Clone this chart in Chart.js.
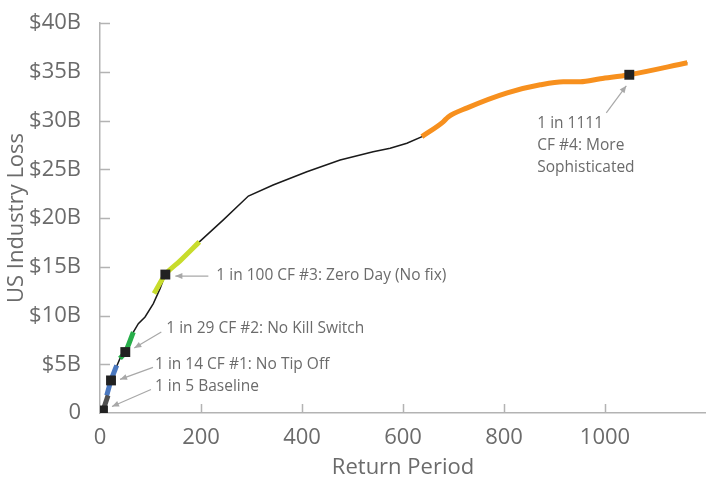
<!DOCTYPE html>
<html>
<head>
<meta charset="utf-8">
<script src="https://cdn.jsdelivr.net/npm/chart.js@4.4.1/dist/chart.umd.min.js"></script>
<style>
  html, body { margin: 0; padding: 0; background: #fff; }
  #wrap { width: 706px; height: 479px; }
</style>
</head>
<body>
<div id="wrap"><canvas id="chart" width="706" height="479"></canvas></div>
<script>
// loss curve (return period in years, loss in $B)
const curveX = [5.9, 15.9, 21.8, 33.7, 39.6, 50.1, 66, 75.9, 89.2, 105.6, 118.9, 129.4, 158.5, 196.7, 243.7, 293.8, 342.8, 409.6, 475.5, 540.9, 574.6, 607.7, 640, 679.6, 689.5, 727.2, 806.4, 871.8, 917.4, 951.1, 990.7, 1048.1, 1163];
const curveY = [0.26, 1.8, 3.34, 4.88, 5.6, 6.25, 8.3, 9.17, 9.85, 11.22, 12.76, 14.2, 15.6, 17.55, 19.78, 22.25, 23.38, 24.75, 25.95, 26.8, 27.15, 27.67, 28.4, 29.86, 30.37, 31.3, 32.84, 33.66, 33.97, 33.97, 34.28, 34.69, 35.92];

// highlighted pieces of the curve
const baselineX = [5.9, 15.9];
const baselineY = [0.26, 1.8];
const cf1X = [13.3, 21.8, 33.1];
const cf1Y = [1.8, 3.34, 4.88];
const cf2X = [39.6, 50.1, 66];
const cf2Y = [5.6, 6.25, 8.3];
const cf3X = [107, 129.4, 158.5, 196.7];
const cf3Y = [12.25, 14.2, 15.6, 17.55];
const cf4X = [637.4, 679.6, 689.5, 727.2, 806.4, 871.8, 917.4, 951.1, 990.7, 1048.1, 1163];
const cf4Y = [28.35, 29.86, 30.37, 31.3, 32.84, 33.66, 33.97, 33.97, 34.28, 34.69, 35.92];

// scenario markers
const markerX = [5.9, 21.8, 50.1, 129.4, 1048.1];
const markerY = [0.26, 3.34, 6.25, 14.2, 34.69];
const markerLabels = [
  ['1 in 5 Baseline'],
  ['1 in 14 CF #1: No Tip Off'],
  ['1 in 29 CF #2: No Kill Switch'],
  ['1 in 100 CF #3: Zero Day (No fix)'],
  ['1 in 1111', 'CF #4: More', 'Sophisticated']
];

const xTicks = [0, 200, 400, 600, 800, 1000];
const yTicks = [0, 5, 10, 15, 20, 25, 30, 35, 40];

const pts = (xs, ys) => xs.map((x, i) => ({ x, y: ys[i] }));
const gray = '#6b6b6b';
const axisGray = '#b3b3b3';
const font = 'Open Sans';

// label placement relative to marker (pixels): text, arrow tail, arrow head
const callouts = [
  { text: [52, -24], tail: [48, -21], head: [9, -4] },
  { text: [44, -16], tail: [42, -13], head: [9, -1] },
  { text: [41, -23], tail: [36, -20], head: [9, -4] },
  { text: [51, 1], tail: [43, 1.5], head: [10, 1.5] },
  { text: [-92, 49], tail: [-23, 38], head: [-3, 11] }
];

function seg(data, color) {
  return { data, showLine: true, borderColor: color, borderWidth: 5, pointRadius: 0,
    cubicInterpolationMode: 'monotone', borderCapStyle: 'butt', order: 1 };
}

const innerTicks = {
  id: 'innerTicks',
  beforeDatasetsDraw(chart) {
    const { ctx, scales: { x, y } } = chart;
    ctx.save();
    ctx.strokeStyle = axisGray; ctx.lineWidth = 1.5;
    xTicks.forEach(v => {
      if (!v) return;
      const px = Math.round(x.getPixelForValue(v)) + 0.5;
      ctx.beginPath(); ctx.moveTo(px, x.top); ctx.lineTo(px, x.top - 9); ctx.stroke();
    });
    yTicks.forEach(v => {
      if (!v) return;
      const py = Math.round(y.getPixelForValue(v)) + 0.5;
      ctx.beginPath(); ctx.moveTo(y.right, py); ctx.lineTo(y.right + 10, py); ctx.stroke();
    });
    ctx.restore();
  }
};

const callout = {
  id: 'callout',
  afterDatasetsDraw(chart) {
    const { ctx, scales: { x, y } } = chart;
    ctx.save();
    markerX.forEach((mx, i) => {
      const px = x.getPixelForValue(mx), py = y.getPixelForValue(markerY[i]);
      const c = callouts[i];
      const tx = px + c.tail[0], ty = py + c.tail[1];
      const hx = px + c.head[0], hy = py + c.head[1];
      ctx.strokeStyle = '#a8a8a8'; ctx.fillStyle = '#a8a8a8'; ctx.lineWidth = 1.2;
      ctx.beginPath(); ctx.moveTo(tx, ty); ctx.lineTo(hx, hy); ctx.stroke();
      const a = Math.atan2(hy - ty, hx - tx);
      ctx.beginPath();
      ctx.moveTo(hx, hy);
      ctx.lineTo(hx - 7 * Math.cos(a) + 3 * Math.sin(a), hy - 7 * Math.sin(a) - 3 * Math.cos(a));
      ctx.lineTo(hx - 7 * Math.cos(a) - 3 * Math.sin(a), hy - 7 * Math.sin(a) + 3 * Math.cos(a));
      ctx.closePath(); ctx.fill();
      ctx.fillStyle = gray;
      ctx.font = '15.5px "' + font + '"';
      ctx.textAlign = 'left'; ctx.textBaseline = 'middle';
      markerLabels[i].forEach((line, k) => ctx.fillText(line, px + c.text[0], py + c.text[1] + k * 22));
    });
    ctx.restore();
  }
};

new Chart(document.getElementById('chart'), {
  type: 'scatter',
  data: {
    datasets: [
      { data: pts(markerX, markerY), pointStyle: 'rect', pointRadius: 7, pointHoverRadius: 7,
        backgroundColor: '#222', borderColor: '#222', borderWidth: 0, order: 0 },
      seg(pts(baselineX, baselineY), '#505050'),
      seg(pts(cf1X, cf1Y), '#4a78c0'),
      seg(pts(cf2X, cf2Y), '#27ae4a'),
      seg(pts(cf3X, cf3Y), '#c8dc2c'),
      seg(pts(cf4X, cf4Y), '#f7901e'),
      { data: pts(curveX, curveY), showLine: true, borderColor: '#1a1a1a', borderWidth: 1.5,
        pointRadius: 0, tension: 0, order: 2 }
    ]
  },
  options: {
    responsive: false,
    animation: false,
    devicePixelRatio: 1,
    layout: { autoPadding: false, padding: { top: 23, right: 0, bottom: 0, left: 0 } },
    plugins: { legend: { display: false }, tooltip: { enabled: false } },
    scales: {
      x: {
        type: 'linear', min: 0, max: 1200,
        grid: { display: false },
        border: { color: axisGray, width: 1.5 },
        afterBuildTicks: s => { s.ticks = xTicks.map(v => ({ value: v })); },
        afterFit: s => { s.height = 66; s.paddingLeft = 0; s.paddingRight = 0; },
        ticks: { color: gray, font: { family: font, size: 22 }, padding: 4,
          callback: v => String(v) },
        title: { display: true, text: 'Return Period', color: gray,
          font: { family: font, size: 22, lineHeight: 1 }, padding: { top: 0, bottom: 0 } }
      },
      y: {
        min: 0, max: 40,
        grid: { display: false },
        border: { color: axisGray, width: 1.5 },
        afterBuildTicks: s => { s.ticks = yTicks.map(v => ({ value: v })); },
        afterFit: s => { s.width = 100; s.paddingTop = 0; s.paddingBottom = 0; },
        ticks: { color: gray, font: { family: font, size: 22 }, padding: 11,
          callback: v => v === 0 ? '0' : '$' + v + 'B' },
        title: { display: true, text: 'US Industry Loss', color: gray,
          font: { family: font, size: 22 }, padding: { top: 4, bottom: 0 } }
      }
    }
  },
  plugins: [innerTicks, callout]
});
</script>
</body>
</html>
